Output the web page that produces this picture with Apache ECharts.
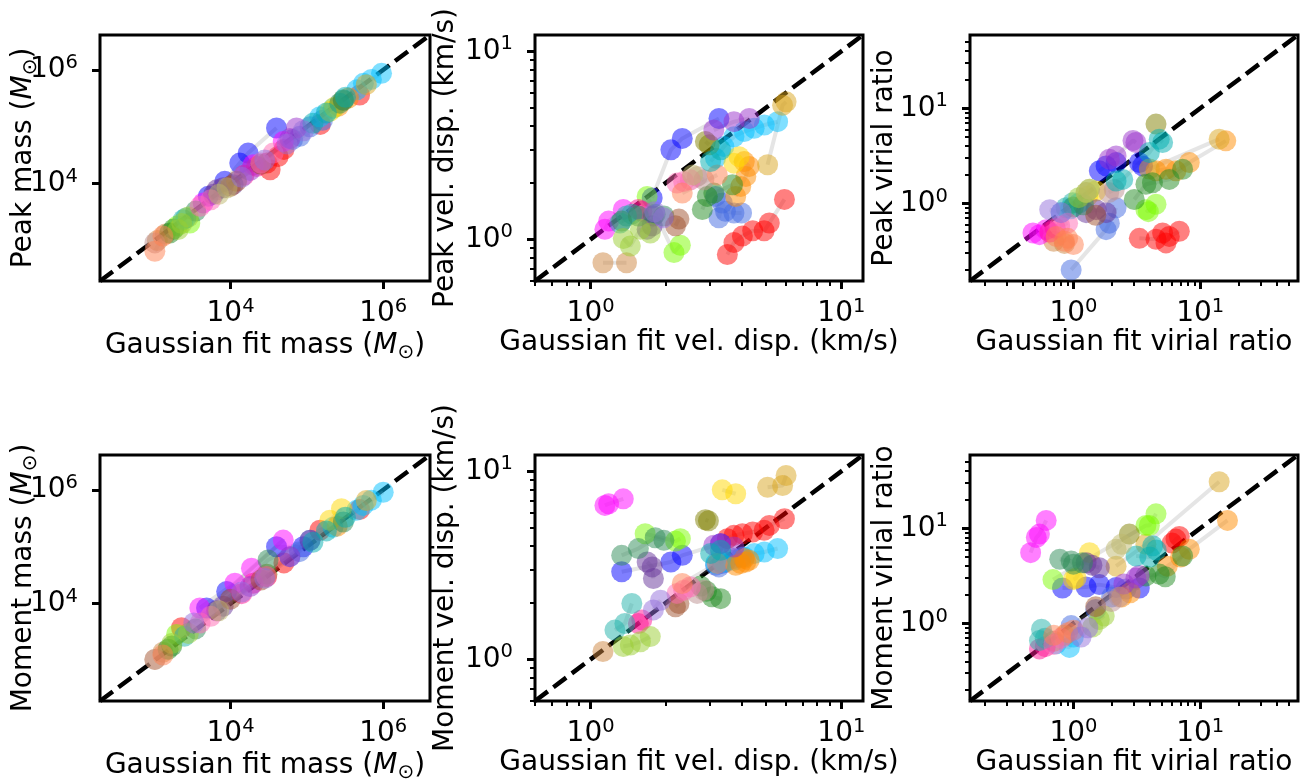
<!DOCTYPE html>
<html><head><meta charset="utf-8">
<script src="https://cdn.jsdelivr.net/npm/echarts@6/dist/echarts.min.js"></script>
<style>html,body{margin:0;padding:0;background:#fff}#c{width:1306px;height:779px}</style>
</head><body><div id="c"></div>
<script>
// ---------- data ----------
const groupColors = ['#ff0000','#0000ff','#4169e1','#00bfff','#ff8c00','#ffd700','#daa520','#cd853f',
  '#7cfc00','#228b22','#808000','#ff00ff','#ff1493','#20b2aa','#9932cc','#663399','#2e8b57',
  '#9acd32','#a0522d','#bc8f8f','#ff69b4','#ff7f50','#00aeb0','#bdb76b','#9370db'];

const massTicks = [1e4, 1e6];
const massMinorTicks = [];
const sigmaTicks = [1, 10];
const sigmaMinorTicks = [0.6,0.7,0.8,0.9,2,3,4,5,6,7,8,9];
const virialTicks = [1, 10];
const virialMinorTicks = [0.2,0.3,0.4,0.5,0.6,0.7,0.8,0.9,2,3,4,5,6,7,8,9,20,30,40,50];
const massRange = [195, 4.1e6];
const sigmaRange = [0.6, 12.2];
const virialRange = [0.153, 59];

// [gaussian fit value, other estimator value] per cloud group
const peakMass = [
 [[3.0e4,2.3e4],[3.3e4,1.76e4],[4.2e4,3.0e4],[5e4,4.0e4],[1.5e5,1.1e5],[4.9e5,3.6e5]],
 [[5.1e3,6.0e3],[8.4e3,1.1e4],[1.32e4,2.3e4],[1.7e4,3.45e4],[4.0e4,9.5e4]],
 [[6.5e4,6.0e4],[8.1e4,6.8e4],[1.1e5,1.0e5],[1.6e5,1.3e5]],
 [[1.48e5,1.5e5],[2.2e5,2.1e5],[4.5e5,4.46e5],[5.5e5,5.8e5],[7e5,6.8e5],[9.5e5,8.7e5]],
 [[2.6e5,2.3e5],[3.5e5,3.2e5]],
 [[2.0e5,1.86e5],[2.3e5,2.2e5]],
 [[6e5,5.5e5]],
 [[1.1e3,1.0e3],[1.4e3,1.3e3]],
 [[2.0e3,1.8e3],[2.93e3,2.04e3]],
 [[1.6e3,1.36e3],[1.8e3,1.6e3]],
 [[3.0e5,2.9e5]],
 [[4.38e3,4.6e3],[1.98e4,2.15e4],[4.9e4,5.5e4]],
 [[1.5e4,1.4e4],[2.2e4,2.0e4]],
 [[2.4e3,2.33e3],[2.6e3,2.5e3]],
 [[1.8e4,1.7e4],[6.0e4,6.2e4],[7.3e4,9.5e4]],
 [[6e3,6.5e3],[6.6e3,7.8e3],[8e3,8.5e3],[1.08e4,9.6e3]],
 [[3.5e3,3.3e3],[2.7e5,2.6e5],[3.0e5,2.98e5]],
 [[2.06e3,1.56e3],[2.3e3,2.0e3],[2.8e3,2.6e3]],
 [[1.0e4,9e3],[1.2e4,1.1e4],[2.5e4,2.2e4]],
 [[1.02e3,910]],
 [[4e3,4e3],[5.5e3,5.2e3],[2.5e4,2.3e4],[3.62e4,3.45e4]],
 [[1.02e3,650],[1.3e3,1.2e3]],
 [[1.2e5,1.15e5],[1.8e5,1.75e5],[3.2e5,3.3e5]],
 [[7e3,6.5e3],[9.0e3,8.5e3]],
 [[1.4e4,1.3e4],[2.8e4,2.6e4],[5.5e4,5.0e4],[9e4,8.5e4]]
];
const peakSigma = [
 [[3.51,0.83],[3.73,0.96],[4.03,1.04],[4.43,1.11],[4.92,1.11],[5.16,1.22],[5.93,1.63]],
 [[1.76,1.66],[2.09,2.99],[2.32,3.44],[3.25,4.39]],
 [[3.15,1.69],[3.25,1.30],[3.35,1.56],[3.45,1.41],[3.73,1.38],[4.0,1.38]],
 [[3.15,2.70],[3.40,3.11],[3.73,3.51],[4.10,3.74],[4.49,3.89],[4.93,4.05],[5.57,4.22]],
 [[3.79,1.69],[3.97,1.91],[4.16,2.16],[4.29,2.44],[4.10,2.59]],
 [[3.73,2.54],[3.91,2.75]],
 [[5.08,2.49],[5.83,5.16],[6.02,5.38]],
 [[1.12,0.75],[1.39,0.75]],
 [[1.68,1.69],[2.15,0.85],[2.28,0.93]],
 [[2.79,1.44],[2.92,1.69],[3.10,1.76],[3.68,1.95]],
 [[2.87,3.31],[2.97,3.18]],
 [[1.14,1.13],[1.18,1.25],[1.35,1.44]],
 [[1.55,1.44],[1.60,1.41]],
 [[1.31,1.22],[1.39,1.33],[1.46,1.36]],
 [[3.10,3.81],[3.73,4.22],[4.29,4.39]],
 [[1.68,1.13],[1.76,1.18],[1.78,1.33]],
 [[1.33,1.25],[1.55,1.33],[1.81,1.36],[1.96,1.33]],
 [[1.35,1.01],[1.44,0.92],[1.58,1.13],[1.73,1.08]],
 [[2.18,1.18],[2.25,1.28]],
 [[2.66,2.16],[2.83,2.07]],
 [[2.21,1.99],[2.35,2.03],[2.50,2.07]],
 [[2.32,1.76],[3.20,2.20]],
 [[3.01,2.59],[3.30,2.99]],
 [[2.55,2.2]],
 [[1.80,1.40],[1.95,1.30]]
];
const peakVirial = [
 [[3.31,0.43],[4.48,0.42],[5.05,0.49],[5.37,0.385],[5.70,0.45],[6.84,0.51]],
 [[1.6,2.2],[1.81,2.48],[2.17,2.69],[3.31,2.69],[3.51,2.48]],
 [[0.96,0.20],[1.81,0.53],[1.92,0.62],[2.17,0.90]],
 [[0.80,0.80],[0.95,0.88],[1.1,1.0]],
 [[4.48,2.2],[5.37,2.29],[6.43,2.2],[8.2,2.69],[15.9,4.55]],
 [[1.3,1.2],[1.5,1.35]],
 [[3.97,2.3],[14.1,4.74]],
 [[0.70,0.40],[0.85,0.38]],
 [[3.73,0.86],[3.9,0.82],[4.48,0.98]],
 [[3.02,1.10],[3.73,1.59],[4.2,1.65],[5.7,1.79],[7.26,2.29]],
 [[4.48,6.83]],
 [[0.48,0.49],[0.54,0.47],[0.61,0.53]],
 [[0.65,0.50],[0.72,0.55]],
 [[0.875,0.90],[0.99,1.02]],
 [[1.92,2.92],[2.17,3.16],[2.95,4.6],[3.11,4.37]],
 [[1.26,0.80],[1.51,0.86],[1.81,0.80]],
 [[1.0,0.92],[1.2,0.97]],
 [[1.1,1.15],[1.26,1.30],[1.34,1.41]],
 [[1.5,0.75]],
 [[1.9,1.3],[2.1,1.4]],
 [[0.78,0.58],[0.9,0.62]],
 [[0.73,0.45],[0.85,0.40],[0.9,0.43],[1.0,0.37]],
 [[2.17,1.72],[2.45,1.79],[3.97,3.43],[4.75,4.74],[5.05,4.37]],
 [[1.26,1.30],[1.34,1.41]],
 [[0.65,0.86],[0.8,0.8]]
];
const momMass = [
 [[2.28e3,3.77e3],[2.96e4,3.0e4],[5e4,5.2e4],[1.48e5,1.95e5],[4.9e5,4.5e5]],
 [[4.85e3,8.4e3],[8.9e3,1.64e4],[4.0e4,1.0e5],[8.95e4,1.0e5]],
 [[6e4,6.7e4],[8e4,8.2e4],[1.1e5,1.3e5]],
 [[2.2e5,2.2e5],[4.48e5,4.37e5],[5.47e5,5.33e5],[7e5,6.6e5],[1e6,9.1e5]],
 [[2.5e5,2.3e5]],
 [[2.0e5,2.92e5],[2.84e5,4.67e5]],
 [[6e5,6.5e5]],
 [[1.02e3,1.05e3],[1.3e3,1.4e3]],
 [[1.96e3,2.88e3]],
 [[1.52e3,1.58e3],[1.7e3,1.8e3]],
 [[3.0e4,3.3e4]],
 [[3.96e3,8.4e3],[1.14e4,2.29e4],[1.88e4,4.19e4],[4.9e4,1.31e5]],
 [[1.4e4,1.5e4],[1.98e4,2.29e4]],
 [[2.5e3,2.69e3]],
 [[1.8e4,2.0e4],[5.98e4,6.7e4]],
 [[6.6e3,7.5e3],[8e3,9e3],[1.1e5,1.3e5]],
 [[3.5e3,3.6e3],[3.1e4,5.85e4],[3.0e5,2.73e5]],
 [[1.7e3,2.0e3],[2.8e3,3.0e3]],
 [[1.0e4,1.2e4],[2.5e4,2.6e4]],
 [[1.02e3,1.05e3]],
 [[4e3,4.6e3],[5.5e3,6.0e3],[2.96e4,3.0e4]],
 [[1.3e3,1.25e3]],
 [[1.2e5,1.2e5],[1.8e5,1.9e5],[3.2e5,3.3e5]],
 [[7e3,7.5e3]],
 [[3.3e3,4.6e3],[1.4e4,1.6e4],[2.8e4,2.8e4]]
];
const momSigma = [
 [[3.51,4.38],[3.73,4.56],[4.03,4.65],[4.43,4.75],[4.92,4.85],[5.16,5.15],[5.93,5.59]],
 [[1.33,2.92],[2.09,3.29],[2.32,3.57],[3.30,4.12]],
 [[3.15,3.16],[3.25,3.10],[3.35,3.23],[3.45,3.29],[3.73,3.43],[4.0,3.50]],
 [[3.15,3.23],[3.40,3.29],[3.73,3.36],[4.10,3.50],[4.49,3.65],[4.93,3.72],[5.57,3.88]],
 [[3.79,3.16],[3.97,3.23],[4.16,3.29],[4.29,3.36],[4.10,3.43]],
 [[3.35,7.96],[3.79,7.59]],
 [[5.08,8.22],[5.83,8.40],[6.02,9.49]],
 [[1.12,1.10]],
 [[1.65,4.65],[2.18,4.25],[2.28,4.38]],
 [[2.75,2.45],[2.9,2.3],[3.05,2.15],[3.3,2.1]],
 [[2.87,5.52],[2.95,5.45]],
 [[1.14,6.58],[1.18,6.71],[1.35,7.13]],
 [[1.55,1.55],[1.60,1.62]],
 [[1.25,1.43],[1.37,1.55],[1.46,1.98]],
 [[3.10,4.04],[3.30,4.12],[3.73,3.95]],
 [[1.68,3.29],[1.76,3.10],[1.78,2.69]],
 [[1.33,3.57],[1.55,3.88],[1.81,4.43],[1.96,4.29]],
 [[1.35,1.17],[1.44,1.19],[1.58,1.24],[1.73,1.32]],
 [[2.18,1.90],[2.25,1.98]],
 [[2.66,2.24],[2.83,2.33]],
 [[2.21,2.24],[2.35,2.33],[2.50,2.43]],
 [[2.32,2.53],[3.20,3.23]],
 [[3.01,3.65],[3.30,3.80]],
 [],
 [[1.78,1.83],[1.90,2.06]]
];
const momVirial = [
 [[6.0,7.0],[6.43,7.7],[6.84,8.2]],
 [[0.82,2.36],[1.26,2.41],[1.6,2.56],[2.17,2.39],[3.31,2.36]],
 [[0.96,0.95],[1.5,1.4],[2.0,1.9],[2.6,2.3]],
 [[0.73,0.61],[0.93,0.56],[1.0,0.72]],
 [[2.4,1.9],[2.8,2.1],[5.5,4.0],[7.0,5.0],[8.2,6.03],[16.4,12.1]],
 [[1.0,2.89],[1.05,3.0],[1.34,5.55]],
 [[2.17,4.0],[3.73,6.8],[14.1,30.9]],
 [[0.7,0.65],[0.85,0.75]],
 [[0.69,2.89],[3.73,10.7],[3.97,10.7],[4.48,14.2]],
 [[3.73,3.16],[4.75,3.3],[5.3,3.1],[7.26,5.12]],
 [[2.76,8.7]],
 [[0.46,5.55],[0.51,8.0],[0.54,8.7],[0.61,12.1]],
 [[0.54,0.54],[0.6,0.57]],
 [[0.54,0.66],[0.56,0.87],[0.6,0.7]],
 [[2.5,2.6],[3.11,3.0],[3.3,3.2]],
 [[1.26,4.35],[1.4,4.1],[1.6,3.85]],
 [[0.78,4.73],[0.96,4.53],[1.0,4.2],[1.18,4.35]],
 [[1.42,0.92],[1.6,1.1],[1.75,1.2]],
 [[1.5,1.5]],
 [[2.0,1.7],[2.3,1.9]],
 [[0.7,0.6],[0.8,0.7]],
 [[0.7,0.75],[0.9,0.8],[1.0,0.85]],
 [[3.12,5.12],[4.0,5.0],[4.22,6.54],[4.5,5.9]],
 [[2.17,6.03],[2.4,6.8]],
 [[1.15,0.72],[1.3,0.9]]
];

// ---------- layout / style ----------
const FONT = "DejaVu Sans";
const colLeft = [100, 535, 970], colWidth = [330, 328, 328];
const rowTop = [35, 455], rowHeight = 246;
const M = ' ({mi|M}{od|⊙})';
const panels = [
 {pts: peakMass, range: massRange, ticks: massTicks, minor: massMinorTicks, xName: 'Gaussian fit mass' + M, yName: 'Peak mass' + M, yGap: 59},
 {pts: peakSigma, range: sigmaRange, ticks: sigmaTicks, minor: sigmaMinorTicks, xName: 'Gaussian fit vel. disp. (km/s)', yName: 'Peak vel. disp. (km/s)', yGap: 75},
 {pts: peakVirial, range: virialRange, ticks: virialTicks, minor: virialMinorTicks, xName: 'Gaussian fit virial ratio', yName: 'Peak virial ratio', yGap: 71},
 {pts: momMass, range: massRange, ticks: massTicks, minor: massMinorTicks, xName: 'Gaussian fit mass' + M, yName: 'Moment mass' + M, yGap: 59},
 {pts: momSigma, range: sigmaRange, ticks: sigmaTicks, minor: sigmaMinorTicks, xName: 'Gaussian fit vel. disp. (km/s)', yName: 'Moment vel. disp. (km/s)', yGap: 75},
 {pts: momVirial, range: virialRange, ticks: virialTicks, minor: virialMinorTicks, xName: 'Gaussian fit virial ratio', yName: 'Moment virial ratio', yGap: 71}
];

const tickRich = {
  num: {fontFamily: FONT, fontSize: 28, color: '#000'},
  sup: {fontFamily: FONT, fontSize: 19.5, color: '#000', padding: [0, 0, 14, 0]}
};
const nameRich = {
  mi: {fontFamily: FONT, fontSize: 28, fontStyle: 'italic', color: '#000'},
  od: {fontFamily: FONT, fontSize: 20, color: '#000', padding: [14, 0, 0, 0]}
};
function expLabel(v) {
  const e = Math.round(Math.log10(v));
  return '{num|10}{sup|' + e + '}';
}

const grids = [], xAxes = [], yAxes = [], series = [];
function makeAxes(dim, i, p) {
  const base = {
    gridIndex: i, type: 'log', logBase: 10, min: p.range[0], max: p.range[1],
    position: dim === 'x' ? 'bottom' : 'left',
    splitLine: {show: false}, axisLine: {show: false}, splitArea: {show: false}
  };
  const major = Object.assign({}, base, {
    name: dim === 'x' ? p.xName : p.yName,
    nameLocation: 'middle',
    nameGap: dim === 'x' ? 48 : p.yGap,
    nameMoveOverlap: false,
    nameRotate: dim === 'y' ? 90 : 0,
    nameTextStyle: {fontFamily: FONT, fontSize: 28, color: '#000', rich: nameRich},
    axisTick: {show: true, inside: false, length: 8, lineStyle: {color: '#000', width: 3}, customValues: p.ticks},
    axisLabel: {show: true, customValues: p.ticks, formatter: expLabel, margin: dim === 'x' ? 16 : 22,
                rich: tickRich, color: '#000', fontFamily: FONT, fontSize: 28}
  });
  const minor = Object.assign({}, base, {
    axisTick: p.minor.length ? {show: true, inside: false, length: 5, lineStyle: {color: '#000', width: 2}, customValues: p.minor}
                             : {show: false},
    axisLabel: {show: false}
  });
  return [major, minor];
}

panels.forEach((p, i) => {
  const col = i % 3, row = Math.floor(i / 3);
  grids.push({left: colLeft[col], top: rowTop[row], width: colWidth[col], height: rowHeight,
              show: true, borderColor: '#000', borderWidth: 3, backgroundColor: 'transparent',
              containLabel: false, outerBoundsMode: 'none'});
  xAxes.push(...makeAxes('x', i, p));
  yAxes.push(...makeAxes('y', i, p));
  series.push({
    type: 'line', xAxisIndex: 2 * i, yAxisIndex: 2 * i, silent: true, z: 1,
    data: [[p.range[0], p.range[0]], [p.range[1], p.range[1]]],
    symbol: 'none', lineStyle: {color: '#000', width: 4.5, type: [16, 7], cap: 'butt'}
  });
  p.pts.forEach((g, gi) => {
    if (!g.length) return;
    series.push({
      type: 'line', xAxisIndex: 2 * i, yAxisIndex: 2 * i, silent: true, z: 2,
      data: g, symbol: 'circle', symbolSize: 21, showSymbol: true, showAllSymbol: true,
      itemStyle: {color: groupColors[gi], opacity: 0.5},
      lineStyle: {color: 'rgba(150,150,150,0.25)', width: 4},
      emphasis: {disabled: true}
    });
  });
});

const chart = echarts.init(document.getElementById('c'), null, {renderer: 'canvas'});
chart.setOption({
  animation: false,
  backgroundColor: '#fff',
  textStyle: {fontFamily: FONT},
  grid: grids, xAxis: xAxes, yAxis: yAxes, series: series
});
</script></body></html>
